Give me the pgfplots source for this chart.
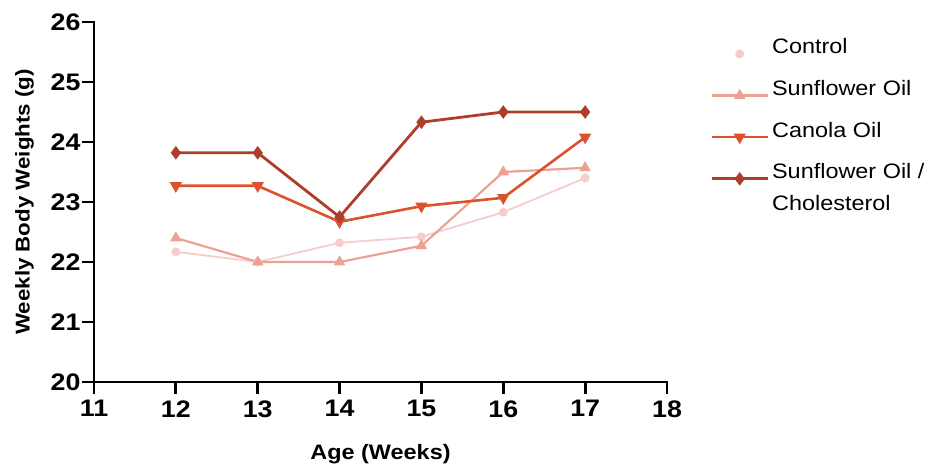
\documentclass[border=0pt]{standalone}
\usepackage{pgfplots}
\pgfplotsset{compat=1.18}
\usepackage{fontspec}
\setmainfont{Liberation Sans}[FakeStretch=1.12]
\definecolor{cctrl}{HTML}{F7CCCC}
\definecolor{csun}{HTML}{EBA293}
\definecolor{ccan}{HTML}{DA532D}
\definecolor{cchol}{HTML}{AC3E2A}
\begin{document}
\begin{tikzpicture}
\path[use as bounding box] (0,0) rectangle (936bp,465bp);
\begin{axis}[
  at={(94bp,83bp)}, anchor=south west,
  scale only axis, width=573bp, height=360bp,
  xmin=11, xmax=18, ymin=20, ymax=26,
  xtick={11,...,18}, ytick={20,...,26},
  axis line style={draw=none},
  xtick pos=bottom, ytick pos=left,
  tick align=outside,
  major tick length=11bp,
  every tick/.style={black, line width=2.8bp},
  /pgf/number format/assume math mode=true,
  tick label style={font=\bfseries\fontsize{24}{24}\selectfont},
  xticklabel style={yshift=-4bp},
  yticklabel style={xshift=1bp},
  xlabel={Age (Weeks)},
  ylabel={Weekly Body Weights (g)},
  label style={font=\bfseries\fontsize{20}{20}\selectfont},
  xlabel style={font=\bfseries\fontsize{21}{21}\selectfont, yshift=-20bp},
  ylabel style={yshift=10bp},
  clip=false,
  legend style={at={(1.07,0.968)}, anchor=north west, draw=none,
    font=\fontsize{21}{32}\selectfont, row sep=19bp,
    nodes={anchor=base west, inner sep=3bp}},
  legend cell align=left,
  legend image code/.code={\draw[mark repeat=2,mark phase=2] plot coordinates {(0bp,0bp) (28bp,0bp) (56bp,0bp)};},
]
\draw[black, line width=2.8bp, line cap=rect] (rel axis cs:0,1) -- (rel axis cs:0,0) -- (rel axis cs:1,0);
\draw[black, line width=2.8bp]
  (axis cs:11,20) -- (axis cs:11,19.8)
  (axis cs:12,20) -- (axis cs:12,19.8)
  (axis cs:13,20) -- (axis cs:13,19.8)
  (axis cs:14,20) -- (axis cs:14,19.8)
  (axis cs:15,20) -- (axis cs:15,19.8)
  (axis cs:16,20) -- (axis cs:16,19.8)
  (axis cs:17,20) -- (axis cs:17,19.8)
  (axis cs:18,20) -- (axis cs:18,19.8)
  (axis cs:11,20) -- (axis cs:10.85,20)
  (axis cs:11,21) -- (axis cs:10.85,21)
  (axis cs:11,22) -- (axis cs:10.85,22)
  (axis cs:11,23) -- (axis cs:10.85,23)
  (axis cs:11,24) -- (axis cs:10.85,24)
  (axis cs:11,25) -- (axis cs:10.85,25)
  (axis cs:11,26) -- (axis cs:10.85,26);
\addplot[color=cctrl, line width=1.8bp, mark=*, mark size=3.5bp, mark options={solid},
  legend image code/.code={\draw plot coordinates {(28bp,0bp)};}] coordinates {
(12,22.17) (13,22.0) (14,22.32) (15,22.42) (16,22.83) (17,23.4)};
\addlegendentry{Control}
\addplot[color=csun, line width=2.2bp, mark=triangle*, mark size=4.5bp] coordinates {
(12,22.4) (13,22.0) (14,22.0) (15,22.27) (16,23.5) (17,23.57)};
\addlegendentry{Sunflower Oil}
\addplot[color=ccan, line width=2.6bp, mark=triangle*, mark size=4.5bp, mark options={rotate=180}] coordinates {
(12,23.27) (13,23.27) (14,22.67) (15,22.93) (16,23.07) (17,24.08)};
\addlegendentry{Canola Oil}
\addplot[color=cchol, line width=2.8bp, mark=diamond*, mark size=4.5bp] coordinates {
(12,23.82) (13,23.82) (14,22.75) (15,24.33) (16,24.5) (17,24.5)};
\addlegendentry{\vtop{\hbox{Sunflower Oil /}\hbox{Cholesterol}}}
\end{axis}
\end{tikzpicture}
\end{document}
